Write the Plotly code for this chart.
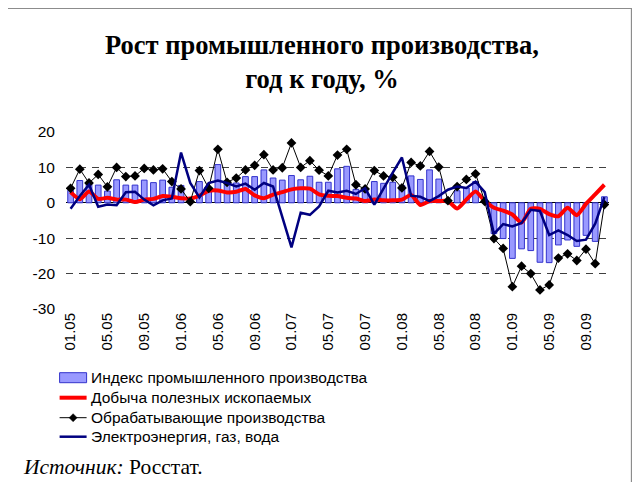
import plotly.graph_objects as go

months = ["01.05","02.05","03.05","04.05","05.05","06.05","07.05","08.05","09.05","10.05","11.05","12.05",
          "01.06","02.06","03.06","04.06","05.06","06.06","07.06","08.06","09.06","10.06","11.06","12.06",
          "01.07","02.07","03.07","04.07","05.07","06.07","07.07","08.07","09.07","10.07","11.07","12.07",
          "01.08","02.08","03.08","04.08","05.08","06.08","07.08","08.08","09.08","10.08","11.08","12.08",
          "01.09","02.09","03.09","04.09","05.09","06.09","07.09","08.09","09.09","10.09","11.09"]

tick_labels = ["01.05","05.05","09.05","01.06","05.06","09.06","01.07","05.07","09.07",
               "01.08","05.08","09.08","01.09","05.09","09.09"]

industrial_index = [3.5, 6.3, 5.8, 5.0, 3.3, 6.5, 5.0, 5.0, 6.4, 5.7, 6.4, 4.4,
                    4.9, 1.0, 6.0, 4.0, 10.8, 6.2, 5.6, 7.4, 7.4, 9.3, 7.0, 6.4,
                    7.7, 6.5, 7.5, 5.8, 5.8, 9.6, 10.3, 3.8, 3.9, 6.0, 5.5, 5.8,
                    4.9, 7.6, 6.6, 9.3, 6.7, 0.7, 3.4, 4.2, 6.0, 0.4, -8.7, -10.1,
                    -15.7, -13.0, -13.5, -16.8, -16.9, -11.9, -10.5, -12.3, -9.2, -10.9, 1.7]

mining = [3.0, 1.0, 3.2, 1.1, 1.4, 0.9, 0.9, 0.2, 0.9, 1.1, 1.9, 1.7,
          1.3, 1.2, 2.0, 3.4, 3.5, 2.9, 3.1, 3.9, 2.1, 1.3, 2.3, 3.0,
          3.8, 4.1, 4.0, 2.4, 2.0, 1.9, 1.4, 1.2, 0.5, 0.9, 0.7, 0.7,
          0.9, 2.2, -0.6, 0.5, 0.5, 0.5, -1.6, 0.9, 3.2, 0.5, -1.4, -2.2,
          -3.3, -5.6, -1.7, -1.7, -3.2, -3.8, -1.4, -3.5, -0.3, 2.4, 5.1]

manufacturing = [4.1, 9.5, 5.6, 8.0, 4.5, 10.0, 7.4, 7.6, 9.7, 9.3, 9.6, 6.0,
                 3.9, 0.3, 9.1, 4.1, 15.1, 5.8, 7.0, 9.3, 10.6, 13.6, 9.3, 9.9,
                 16.9, 10.0, 11.9, 9.2, 7.6, 13.5, 15.1, 5.1, 3.9, 9.1, 7.6, 7.2,
                 4.2, 11.4, 10.4, 14.5, 10.1, 0.6, 4.6, 6.6, 8.2, 0.4, -10.1, -12.9,
                 -23.7, -17.9, -20.0, -24.6, -23.2, -15.6, -14.4, -16.3, -13.1, -17.2, -0.5]

utilities = [-1.7, 1.9, 5.1, -1.1, -0.5, -0.7, 3.0, 3.1, 0.9, -0.7, 0.7, 1.2,
             14.2, 5.6, 1.5, 5.6, 6.3, 5.6, 4.6, 5.4, 3.7, 5.6, 4.6, -4.0,
             -12.6, -2.8, -3.4, -1.0, 3.4, 2.9, 3.4, 2.5, 4.1, -0.5, 4.2, 8.5,
             12.8, 2.0, 1.7, 0.5, 1.9, 3.7, 4.6, 4.2, 6.0, 3.0, -8.8, -6.0,
             -6.7, -5.7, -2.0, -2.3, -9.1, -7.8, -9.1, -10.8, -10.4, -5.9, 1.6]

y_ticks = [-30, -20, -10, 0, 10, 20]
y_tick_text = ["-30", "-20", "-10", "0", "10", "20"]

series_names = ["Индекс промышленного производства", "Добыча полезных ископаемых",
                "Обрабатывающие производства", "Электроэнергия, газ, вода"]

BAR_FILL, BAR_LINE = "#9999FF", "#3333CC"
RED, BLACK, NAVY = "#FF0000", "#000000", "#000080"

# the page body has an 8px margin; work in window pixels and shift
OFF = 8
W, H = 640 - OFF, 482 - OFF
L, R, T, B = 66.4, 609.4, 132.3, 309.3   # plot area in window pixels
pw, ph = R - L, B - T

def px(x):
    return (x - L) / pw

def py(y):
    return (B - y) / ph

fig = go.Figure()
fig.add_trace(go.Bar(x=months, y=industrial_index, name=series_names[0],
                     marker=dict(color=BAR_FILL, line=dict(color=BAR_LINE, width=1))))
fig.add_trace(go.Scatter(x=months, y=mining, name=series_names[1], mode="lines",
                         line=dict(color=RED, width=4, shape="spline", smoothing=0.6)))
fig.add_trace(go.Scatter(x=months, y=manufacturing, name=series_names[2], mode="lines+markers",
                         line=dict(color=BLACK, width=1),
                         marker=dict(symbol="diamond", size=7.5, color=BLACK)))
fig.add_trace(go.Scatter(x=months, y=utilities, name=series_names[3], mode="lines",
                         line=dict(color=NAVY, width=2.5)))

fig.update_layout(
    width=W, height=H,
    margin=dict(l=L - OFF, r=640 - R, t=T - OFF, b=482 - B, pad=0, autoexpand=False),
    paper_bgcolor="white", plot_bgcolor="white",
    bargap=0.38,
    font=dict(family="Arial, Liberation Sans, sans-serif", size=15, color="black"),
    xaxis=dict(type="category", tickmode="array", tickvals=tick_labels, ticktext=tick_labels,
               tickangle=-90, showgrid=False, showline=False, ticks="",
               tickfont=dict(size=15), range=[-0.5, len(months) - 0.5]),
    yaxis=dict(range=[-30, 20], tickmode="array", tickvals=y_ticks, ticktext=y_tick_text,
               showgrid=True, gridcolor="#404040",
               griddash="7px,6px", gridwidth=1, zeroline=True, zerolinecolor="#000000",
               zerolinewidth=1.2, showline=False, ticks="", tickfont=dict(size=15.5),
               ticklabelstandoff=10),
    showlegend=False,
)

# title
fig.add_annotation(x=px(322), y=py(62), xref="paper", yref="paper",
                   text="<b>Рост промышленного производства,<br>год к году, %</b>",
                   showarrow=False, xanchor="center", yanchor="middle", align="center",
                   font=dict(family="Liberation Serif, Times New Roman, serif", size=26.5, color="black"))

# legend (drawn in paper space)
rows = [378, 398, 418, 437]
sx0, sx1 = 60, 87
fig.add_shape(type="rect", xref="paper", yref="paper",
              x0=px(sx0), x1=px(sx1), y0=py(rows[0] + 5), y1=py(rows[0] - 5),
              line=dict(color=BAR_LINE, width=1), fillcolor=BAR_FILL)
fig.add_shape(type="line", xref="paper", yref="paper",
              x0=px(sx0), x1=px(sx1), y0=py(rows[1]), y1=py(rows[1]),
              line=dict(color=RED, width=4))
fig.add_shape(type="line", xref="paper", yref="paper",
              x0=px(sx0), x1=px(sx1), y0=py(rows[2]), y1=py(rows[2]),
              line=dict(color=BLACK, width=1))
cx, cy, d = (sx0 + sx1) / 2, rows[2], 4
fig.add_shape(type="path", xref="paper", yref="paper",
              path=f"M {px(cx)},{py(cy - d)} L {px(cx + d)},{py(cy)} L {px(cx)},{py(cy + d)} L {px(cx - d)},{py(cy)} Z",
              line=dict(color=BLACK, width=0.5), fillcolor=BLACK)
fig.add_shape(type="line", xref="paper", yref="paper",
              x0=px(sx0), x1=px(sx1), y0=py(rows[3]), y1=py(rows[3]),
              line=dict(color=NAVY, width=2.5))
for name, ry in zip(series_names, rows):
    fig.add_annotation(x=px(89), y=py(ry), xref="paper", yref="paper", text=name,
                       showarrow=False, xanchor="left", yanchor="middle",
                       font=dict(family="Arial, Liberation Sans, sans-serif", size=15.5, color="black"))

# source
fig.add_annotation(x=px(21), y=py(467), xref="paper", yref="paper",
                   text="<i>Источник:</i> Росстат.", showarrow=False,
                   xanchor="left", yanchor="middle",
                   font=dict(family="Liberation Serif, Times New Roman, serif", size=21.5, color="black"))

# frame
fig.add_shape(type="rect", xref="paper", yref="paper",
              x0=px(7.5), x1=px(632), y0=py(495), y1=py(8.5),
              line=dict(color="#8c8c8c", width=1.5), fillcolor="rgba(0,0,0,0)", layer="below")

fig.write_html("out.html")
